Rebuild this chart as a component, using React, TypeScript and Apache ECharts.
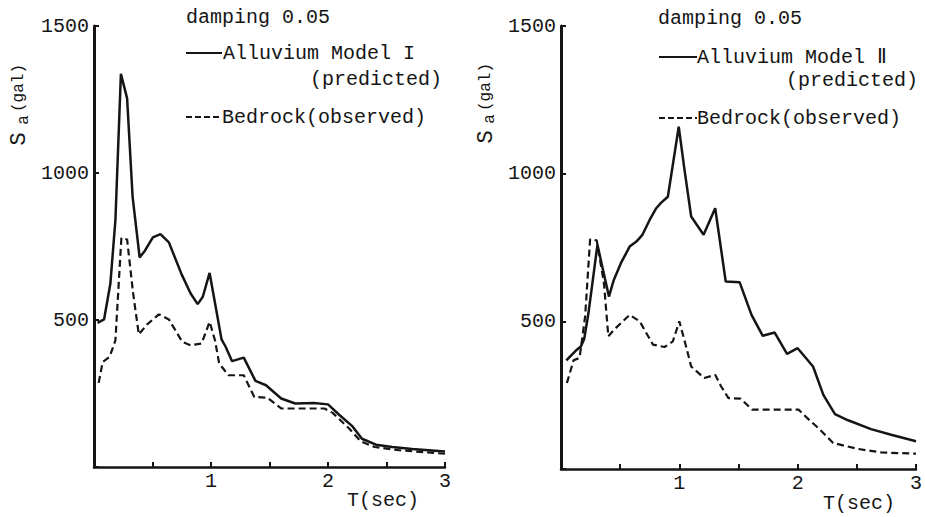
import React, { useEffect, useRef } from "react";
import * as echarts from "echarts";

// ---- Data ----
// Left panel: Alluvium Model I (predicted), solid
const modelIPeriods = [0.03, 0.086, 0.14, 0.183, 0.23, 0.283, 0.33, 0.39, 0.434, 0.503, 0.568, 0.64, 0.748, 0.826, 0.886, 0.93, 0.988, 1.04, 1.09, 1.125, 1.18, 1.28, 1.38, 1.47, 1.6, 1.72, 1.88, 2.0, 2.1, 2.21, 2.29, 2.41, 2.55, 2.72, 3.0];
const modelIValues = [490, 502, 624, 840, 1337, 1254, 919, 713, 735, 781, 792, 764, 656, 590, 554, 579, 660, 545, 434, 409, 360, 372, 293, 278, 233, 216, 218, 213, 176, 138, 96, 76, 68, 61, 53];
// Left panel: Bedrock (observed), dashed
const bedrockLPeriods = [0.04, 0.074, 0.134, 0.183, 0.234, 0.283, 0.334, 0.383, 0.454, 0.554, 0.64, 0.754, 0.826, 0.92, 0.988, 1.034, 1.07, 1.15, 1.28, 1.37, 1.48, 1.6, 1.97, 2.04, 2.18, 2.28, 2.4, 2.61, 3.0];
const bedrockLValues = [286, 357, 375, 431, 779, 774, 592, 451, 485, 519, 502, 426, 414, 420, 494, 431, 352, 312, 312, 238, 236, 199, 199, 184, 131, 87, 68, 57, 45];
// Right panel: Alluvium Model II (predicted), solid
const modelIIPeriods = [0.045, 0.134, 0.168, 0.196, 0.232, 0.308, 0.405, 0.447, 0.506, 0.58, 0.637, 0.688, 0.75, 0.805, 0.847, 0.903, 0.995, 1.04, 1.1, 1.205, 1.303, 1.392, 1.51, 1.61, 1.705, 1.806, 1.91, 2.0, 2.13, 2.217, 2.315, 2.426, 2.62, 2.79, 3.0];
const modelIIValues = [368, 404, 415, 440, 528, 759, 584, 641, 697, 753, 770, 793, 844, 883, 902, 922, 1159, 1024, 855, 793, 883, 635, 632, 522, 451, 462, 390, 409, 347, 251, 186, 165, 135, 116, 94];
// Right panel: Bedrock (observed), dashed
const bedrockRPeriods = [0.05, 0.106, 0.157, 0.204, 0.246, 0.302, 0.363, 0.4, 0.447, 0.58, 0.665, 0.777, 0.875, 0.945, 1.0, 1.057, 1.1, 1.21, 1.303, 1.35, 1.415, 1.518, 1.616, 2.007, 2.09, 2.19, 2.3, 2.51, 2.706, 3.0];
const bedrockRValues = [291, 368, 376, 517, 778, 774, 629, 449, 471, 522, 500, 421, 413, 432, 500, 415, 347, 308, 319, 282, 240, 238, 201, 201, 169, 133, 88, 68, 56, 52];

const yTickValues = [500, 1000, 1500];
const xTickValues = [1, 2, 3];

const zip = (xs: number[], ys: number[]) => xs.map((x, i) => [x, ys[i]]);

const FONT = "'Liberation Mono', 'Courier New', monospace";
const INK = "#151515";

export default function App() {
  const ref = useRef<HTMLDivElement>(null);

  useEffect(() => {
    if (!ref.current) return;
    const chart = echarts.init(ref.current, undefined, { renderer: "svg" });

    const xAxisBase = (gridIndex: number) => ({
      type: "value" as const,
      gridIndex,
      min: 0,
      max: 3,
      interval: 0.5,
      axisLine: { show: true, onZero: false, lineStyle: { color: INK, width: 2.5 } },
      axisTick: { show: true, inside: true, length: 5, lineStyle: { color: INK, width: 2 } },
      axisLabel: {
        formatter: (v: number) => (xTickValues.includes(v) ? String(v) : ""),
        fontFamily: FONT,
        fontSize: 20,
        color: INK,
        margin: 4,
      },
      splitLine: { show: false },
    });
    const yAxisBase = (gridIndex: number) => ({
      type: "value" as const,
      gridIndex,
      min: 0,
      max: 1500,
      interval: 500,
      axisLine: { show: true, onZero: false, lineStyle: { color: INK, width: 3 } },
      axisTick: { show: true, inside: true, length: 5, lineStyle: { color: INK, width: 2 } },
      axisLabel: {
        formatter: (v: number) => (yTickValues.includes(v) ? String(v) : ""),
        fontFamily: FONT,
        fontSize: 20,
        color: INK,
        margin: 5,
      },
      splitLine: { show: false },
    });

    const solid = { color: INK, width: 2.5, type: "solid" as const };
    const dashed = { color: INK, width: 2.2, type: [7, 4] as any };

    const txt = (text: string, x: number, y: number, opts: any = {}) => ({
      type: "text",
      x,
      y,
      rotation: opts.rotation || 0,
      style: {
        text,
        fontFamily: FONT,
        fontSize: opts.fontSize || 20,
        fill: INK,
        textAlign: opts.align || "left",
        textVerticalAlign: "middle",
      },
    });
    const hline = (x1: number, x2: number, y: number, dash?: number[]) => ({
      type: "line",
      shape: { x1, y1: y, x2, y2: y },
      style: { stroke: INK, lineWidth: 2, lineDash: dash || null },
    });

    const R = Math.PI / 2;
    const graphics: any[] = [
      // left legend
      txt("damping 0.05", 186, 17),
      hline(186, 222, 53),
      txt("Alluvium Model I", 223, 53),
      txt("(predicted)", 442, 79, { align: "right" }),
      hline(186, 222, 117, [6, 3]),
      txt("Bedrock(observed)", 222, 117),
      txt("T(sec)", 383, 500, { align: "center" }),
      txt("S", 19, 139, { rotation: R, align: "center", fontSize: 22 }),
      txt("a", 24, 120, { rotation: R, align: "center", fontSize: 16 }),
      txt("(gal)", 19, 88, { rotation: R, align: "center", fontSize: 16 }),
      // right legend
      txt("damping 0.05", 658, 18),
      hline(659, 697, 57),
      txt("Alluvium Model \u2161", 697, 57),
      txt("(predicted)", 918, 80, { align: "right" }),
      hline(659, 697, 118, [6, 3]),
      txt("Bedrock(observed)", 697, 118),
      txt("T(sec)", 859, 503, { align: "center" }),
      txt("S", 486, 137, { rotation: R, align: "center", fontSize: 22 }),
      txt("a", 490, 119, { rotation: R, align: "center", fontSize: 16 }),
      txt("(gal)", 486, 87, { rotation: R, align: "center", fontSize: 16 }),
    ];

    chart.setOption({
      animation: false,
      backgroundColor: "#ffffff",
      grid: [
        { left: 94, top: 26, width: 351, height: 441 },
        { left: 561, top: 26, width: 357, height: 443 },
      ],
      xAxis: [xAxisBase(0), xAxisBase(1)],
      yAxis: [yAxisBase(0), yAxisBase(1)],
      series: [
        { type: "line", name: "Alluvium Model I (predicted)", xAxisIndex: 0, yAxisIndex: 0, data: zip(modelIPeriods, modelIValues), showSymbol: false, symbol: "none", lineStyle: solid },
        { type: "line", name: "Bedrock (observed)", xAxisIndex: 0, yAxisIndex: 0, data: zip(bedrockLPeriods, bedrockLValues), showSymbol: false, symbol: "none", lineStyle: dashed },
        { type: "line", name: "Alluvium Model II (predicted)", xAxisIndex: 1, yAxisIndex: 1, data: zip(modelIIPeriods, modelIIValues), showSymbol: false, symbol: "none", lineStyle: solid },
        { type: "line", name: "Bedrock (observed) ", xAxisIndex: 1, yAxisIndex: 1, data: zip(bedrockRPeriods, bedrockRValues), showSymbol: false, symbol: "none", lineStyle: dashed },
      ],
      graphic: graphics,
    });

    return () => chart.dispose();
  }, []);

  return (
    <div
      ref={ref}
      style={{ position: "fixed", left: 0, top: 0, width: 925, height: 517, background: "#fff" }}
    />
  );
}
